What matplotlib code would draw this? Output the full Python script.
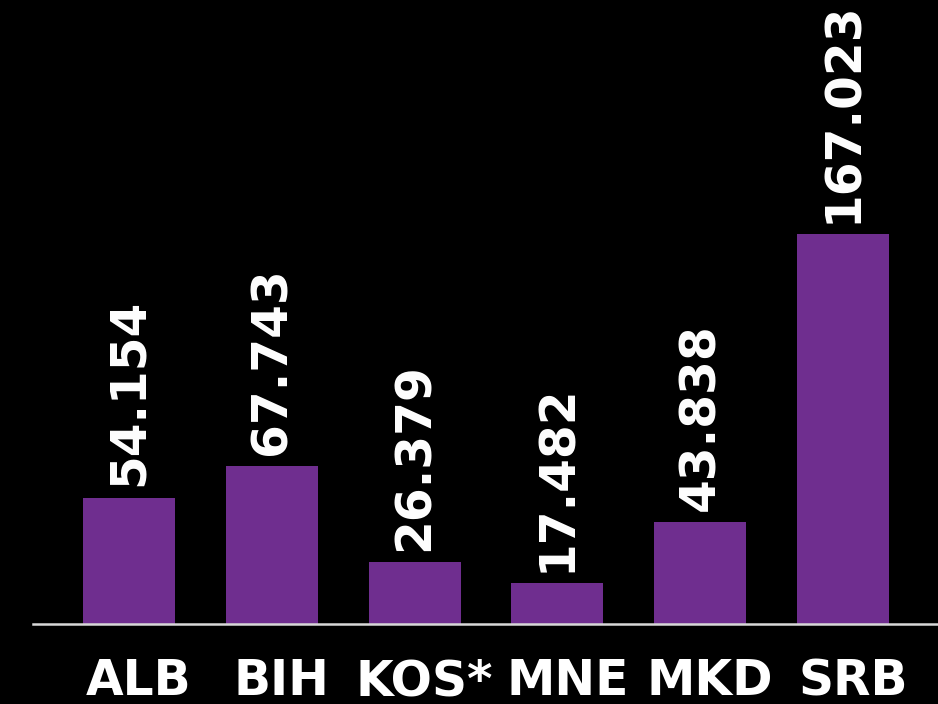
import matplotlib
matplotlib.use("Agg")
import matplotlib.pyplot as plt
from matplotlib.transforms import ScaledTranslation

countries = ["ALB", "BIH", "KOS*", "MNE", "MKD", "SRB"]
values = [54.154, 67.743, 26.379, 17.482, 43.838, 167.023]
value_labels = ["54.154", "67.743", "26.379", "17.482", "43.838", "167.023"]

bar_color = "#6f2e8f"
bg = "black"

plt.rcParams["font.family"] = ["DejaVu Sans"]

fig = plt.figure(figsize=(9.38, 7.04), dpi=100, facecolor=bg)
ax = fig.add_axes([33 / 938, 80 / 704, 905 / 938, 624 / 704], facecolor=bg)

x = list(range(len(countries)))
bars = ax.bar(x, values, width=0.644, color=bar_color, zorder=2)

ax.set_xlim(-0.672, 5.665)
ax.set_ylim(0, 267.2)

for rect, lab in zip(bars, value_labels):
    ax.annotate(lab, (rect.get_x() + rect.get_width() / 2, rect.get_height()),
                xytext=(0, 8), textcoords="offset points",
                rotation=90, ha="center", va="bottom",
                color="white", fontsize=35, fontweight="bold")

for s in ["top", "right", "left"]:
    ax.spines[s].set_visible(False)
ax.spines["bottom"].set_color("#d8d8d8")
ax.spines["bottom"].set_linewidth(1.8)

ax.set_yticks([])
ax.set_xticks(x)
ax.set_xticklabels(countries, color="white", fontsize=35, fontweight="bold")
ax.tick_params(axis="x", length=0, pad=24)
shift = ScaledTranslation(10 / 100, 0, fig.dpi_scale_trans)
for t in ax.get_xticklabels():
    t.set_transform(t.get_transform() + shift)

fig.savefig("out.png", dpi=100, facecolor=bg)
